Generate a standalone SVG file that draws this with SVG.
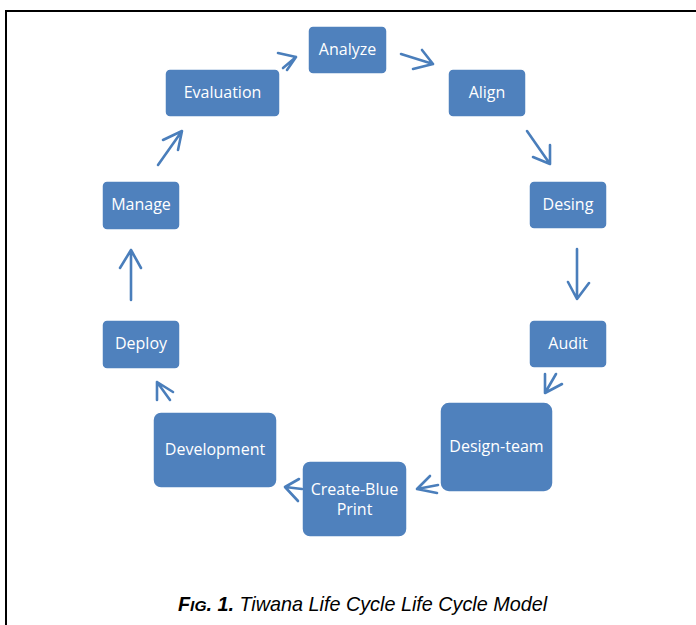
<svg xmlns="http://www.w3.org/2000/svg" width="696" height="625" viewBox="0 0 696 625">
  <style>
    .box { fill: #4F81BD; stroke: #ffffff; stroke-width: 1.5; }
    .lbl { fill: #ffffff; font-family: "Open Sans", "Liberation Sans", sans-serif; font-size: 16px; text-anchor: middle; dominant-baseline: central; }
    .arr { fill: none; stroke: #4A7EBB; stroke-width: 2.6; stroke-linecap: round; stroke-linejoin: round; }
    .cap { font-family: "Liberation Sans", Arial, sans-serif; font-style: italic; fill: #000000; }
  </style>
  <rect width="696" height="625" fill="#ffffff"/>
  <!-- frame -->
  <path d="M6,625 V11 H696" fill="none" stroke="#000000" stroke-width="2"/>

  <!-- nodes -->
  <g id="analyze"><rect class="box" x="308" y="26" width="79" height="48" rx="5"/><text class="lbl" x="347.5" y="49">Analyze</text></g>
  <g id="align"><rect class="box" x="448" y="69" width="78" height="48" rx="5"/><text class="lbl" x="487" y="92">Align</text></g>
  <g id="desing"><rect class="box" x="529" y="181" width="78" height="48" rx="5"/><text class="lbl" x="568" y="204">Desing</text></g>
  <g id="audit"><rect class="box" x="529" y="320" width="78" height="48" rx="5"/><text class="lbl" x="568" y="343">Audit</text></g>
  <g id="design-team"><rect class="box" x="440" y="402" width="113" height="90" rx="9"/><text class="lbl" x="496.5" y="446">Design-team</text></g>
  <g id="create-blue-print"><rect class="box" x="302" y="461" width="105" height="76" rx="8"/><text class="lbl" x="354.5" y="489">Create-Blue</text><text class="lbl" x="354.5" y="509">Print</text></g>
  <g id="development"><rect class="box" x="153" y="412" width="124" height="76" rx="8"/><text class="lbl" x="215" y="449">Development</text></g>
  <g id="deploy"><rect class="box" x="102" y="320" width="78" height="49" rx="5"/><text class="lbl" x="141" y="343">Deploy</text></g>
  <g id="manage"><rect class="box" x="102" y="181" width="78" height="49" rx="5"/><text class="lbl" x="141" y="204">Manage</text></g>
  <g id="evaluation"><rect class="box" x="165" y="69" width="115" height="48" rx="5"/><text class="lbl" x="222.5" y="92">Evaluation</text></g>

  <!-- connectors -->
  <g id="connectors">
    <path class="arr" d="M283,68 L296,57 M278,53 L296,57 L287,70"/>
    <path class="arr" d="M401,54 L433,64 M422,50 L433,64 L413,69"/>
    <path class="arr" d="M527,131 L550,164 M533,157 L550,164 L550,145"/>
    <path class="arr" d="M577,249 L577,299 M568,282 L577,299 L589,283"/>
    <path class="arr" d="M556,374 L545,393 M545,374 L545,393 L562,384"/>
    <path class="arr" d="M438,485 L417,489 M430,476 L417,489 L437,493"/>
    <path class="arr" d="M302,489 L285,487 M299,479 L285,487 L298,501"/>
    <path class="arr" d="M170,400 L157,382 M173,392 L157,382 L157,400"/>
    <path class="arr" d="M131,300 L131,250 M120,268 L131,250 L141,268"/>
    <path class="arr" d="M158,165 L182,131 M163,140 L182,131 L178,150"/>
  </g>

  <!-- caption -->
  <text class="cap" x="178" y="611" font-size="19.8"><tspan font-weight="bold">F</tspan><tspan font-weight="bold" font-size="15.5">IG</tspan><tspan font-weight="bold">. 1.</tspan> Tiwana Life Cycle Life Cycle Model</text>
</svg>
